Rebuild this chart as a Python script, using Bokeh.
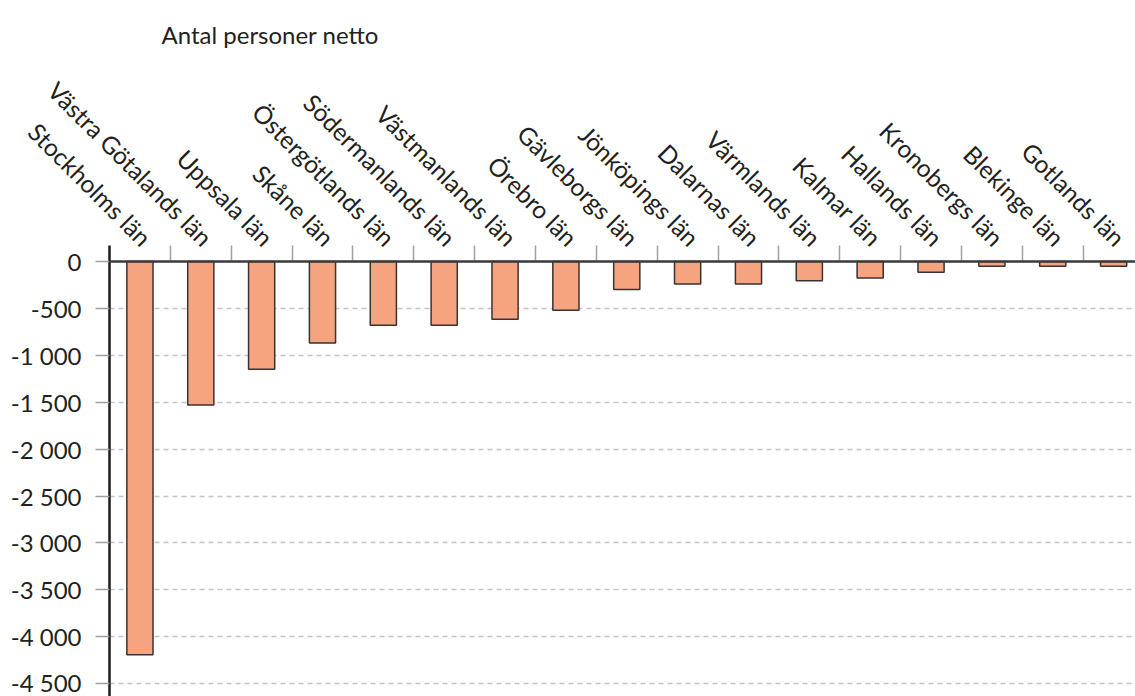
import math
from bokeh.plotting import figure
from bokeh.models import FixedTicker, Range1d, Span, Title
from bokeh.embed import file_html
from bokeh.resources import INLINE

# ---- data ----
regions = ["Stockholms län", "Västra Götalands län", "Uppsala län", "Skåne län",
           "Östergötlands län", "Södermanlands län", "Västmanlands län", "Örebro län",
           "Gävleborgs län", "Jönköpings län", "Dalarnas län", "Värmlands län",
           "Kalmar län", "Hallands län", "Kronobergs län", "Blekinge län", "Gotlands län"]
values = [-4190, -1530, -1150, -870, -680, -680, -615, -520,
          -300, -240, -240, -205, -175, -115, -50, -50, -50]
y_ticks = [0, -500, -1000, -1500, -2000, -2500, -3000, -3500, -4000, -4500]
y_tick_labels = ["0", "-500", "-1 000", "-1 500", "-2 000", "-2 500",
                 "-3 000", "-3 500", "-4 000", "-4 500"]
title_text = "Antal personer netto"

FONT = "Lato"
TXT = "#231f20"

xs = list(range(len(regions)))
boundaries = [i + 0.5 for i in range(len(regions) - 1)]
label_pos = [i + 0.12 for i in xs]  # rotated labels end slightly right of bar centre

p = figure(width=1135, height=696, output_backend="svg", toolbar_location=None,
           x_range=Range1d(-0.5, 16.36), y_range=Range1d(-4636, 170),
           x_axis_location="above", min_border_left=109, min_border_right=0,
           min_border_bottom=0, min_border_top=245)
p.outline_line_color = None
p.background_fill_color = "white"
p.border_fill_color = "white"

# title
t = Title(text=title_text, text_font=FONT, text_font_size="24px",
          text_font_style="normal", text_color=TXT, align="left", offset=52,
          standoff=24, vertical_align="top")
p.add_layout(t, "above")

# grid
p.xgrid.visible = False
p.ygrid.ticker = FixedTicker(ticks=[v for v in y_ticks if v != 0])
p.ygrid.grid_line_color = "#c4c4c4"
p.ygrid.grid_line_dash = "5 4"
p.ygrid.grid_line_width = 1.3

# bars
p.vbar(x=xs, top=values, bottom=0, width=0.43, fill_color="#F6A480",
       line_color="#3a3232", line_width=1.5)

# zero line
p.add_layout(Span(location=0, dimension="width", line_color="#3a3a3a", line_width=2.5))

# x axis (above)
xa = p.xaxis[0]
xa.ticker = FixedTicker(ticks=label_pos, minor_ticks=boundaries)
xa.major_label_overrides = {pos: r for pos, r in zip(label_pos, regions)}
xa.major_label_orientation = -math.pi / 4
xa.major_label_text_font = FONT
xa.major_label_text_font_size = "24.5px"
xa.major_label_text_color = TXT
xa.major_tick_line_color = None
xa.major_tick_in = 0
xa.major_tick_out = 0
xa.minor_tick_line_color = "#a0a0a0"
xa.minor_tick_line_width = 1.5
xa.minor_tick_in = 15
xa.minor_tick_out = 0
xa.axis_line_color = None
xa.major_label_standoff = 4

# y axis
ya = p.yaxis[0]
ya.ticker = FixedTicker(ticks=y_ticks)
ya.major_label_overrides = {v: l for v, l in zip(y_ticks, y_tick_labels)}
ya.major_label_text_font = FONT
ya.major_label_text_font_size = "24px"
ya.major_label_text_color = TXT
ya.axis_line_color = "#1a1a1a"
ya.axis_line_width = 2.5
ya.major_tick_line_color = "#a0a0a0"
ya.major_tick_line_width = 1.5
ya.major_tick_in = 0
ya.major_tick_out = 14
ya.minor_tick_line_color = None
ya.major_label_standoff = 14

open("out.html", "w").write(file_html(p, INLINE))
